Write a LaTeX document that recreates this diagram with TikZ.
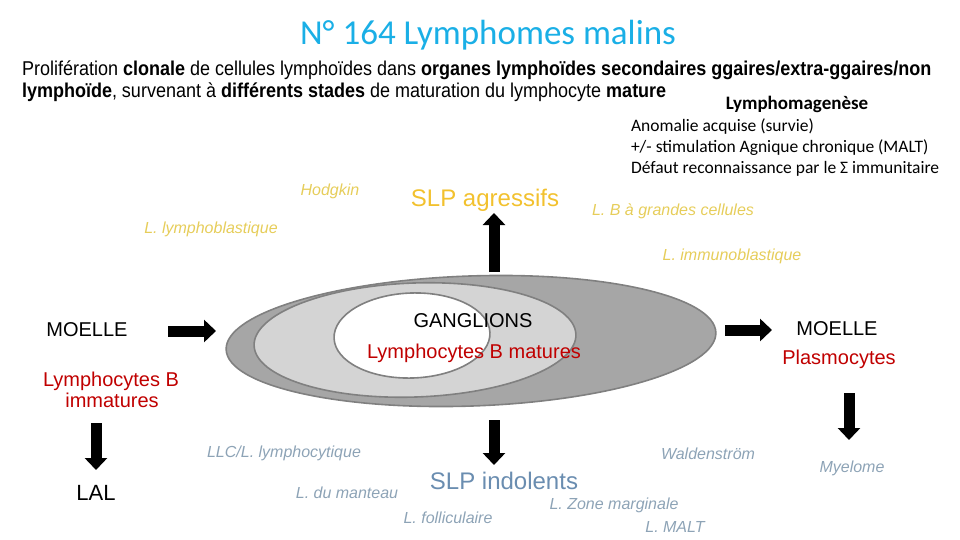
\documentclass[tikz,border=0pt]{standalone}
\usepackage{fontspec}
\setmainfont{Liberation Sans}
\newfontfamily\calibri{Carlito}
\newfontfamily\narrowfont[FakeStretch=0.9]{Liberation Sans}
\usetikzlibrary{positioning, arrows.meta, shapes.geometric}
\definecolor{titleblue}{HTML}{1AAFE6}
\definecolor{matred}{HTML}{C00000}
\definecolor{aggold}{HTML}{F2C12E}
\definecolor{agpale}{HTML}{E6CD5A}
\definecolor{indblue}{HTML}{6A8DB0}
\definecolor{indpale}{HTML}{8DA3B6}
\definecolor{rimgray}{HTML}{808080}

\begin{document}
\begin{tikzpicture}[
    x=1pt, y=-1pt,
    every node/.style={inner sep=0pt, outer sep=0pt},
    lbl/.style={anchor=base, font=\fontsize{20}{24}\selectfont},
    sub/.style={anchor=base, font=\fontsize{16}{19}\selectfont\itshape},
    slp/.style={anchor=base, font=\fontsize{24}{28}\selectfont},
    gen/.style={anchor=base west, font=\calibri\fontsize{17.5}{21}\selectfont},
    intro/.style={anchor=base west, font=\narrowfont\fontsize{20}{22}\selectfont},
    blob/.style={ellipse, draw=rimgray, line width=1.6pt, rotate=2},
    blockarr/.style={line width=11pt, -{Triangle[width=22pt,length=12pt]}}
  ]
  \useasboundingbox (0,0) rectangle (960,540);
  % Titre
  \node[anchor=base, font=\calibri\fontsize{35}{40}\selectfont, text=titleblue] (title) at (488,45) {N° 164 Lymphomes malins};
  \node[intro] (intro1) at (22,76) {Prolifération \textbf{clonale} de cellules lymphoïdes dans \textbf{organes lymphoïdes secondaires ggaires/extra-ggaires/non}};
  \node[intro] (intro2) at (22,98) {\textbf{lymphoïde}, survenant à \textbf{différents stades} de maturation du lymphocyte \textbf{mature}};
  % Lymphomagenese
  \node[anchor=base, font=\calibri\bfseries\fontsize{19}{22}\selectfont] (genese) at (797,110) {Lymphomagenèse};
  \node[gen] (anom) at (631,132) {Anomalie acquise (survie)};
  \node[gen] (stim) at (631,153) {+/- stimulation Agnique chronique (MALT)};
  \node[gen] (defaut) at (631,174) {Défaut reconnaissance par le Σ immunitaire};
  % Ganglions
  \node[blob, fill=black!35, minimum width=490pt, minimum height=130pt] (outer) at (471,341) {};
  \node[blob, fill=black!17, minimum width=322pt, minimum height=114pt] (mid) at (415,340) {};
  \node[blob, fill=white, minimum width=156pt, minimum height=85pt] (core) at (412,335.5) {};
  \node[lbl] (gang) at (473,327) {GANGLIONS};
  \node[lbl, text=matred] (lbmat) at (474,358) {Lymphocytes B matures};
  % Moelle
  \node[lbl] (moelleL) at (87,336) {MOELLE};
  \node[lbl, text=matred] (lbimm1) at (111,386) {Lymphocytes B};
  \node[lbl, text=matred] (lbimm2) at (112,407) {immatures};
  \node[lbl, font=\fontsize{22}{26}\selectfont] (lal) at (96,500) {LAL};
  \node[lbl] (moelleR) at (837,335) {MOELLE};
  \node[lbl, text=matred] (plasmo) at (839,364) {Plasmocytes};
  \node[sub, text=indpale] (myelome) at (852,472) {Myelome};
  % SLP agressifs
  \node[slp, text=aggold] (aggr) at (485,206) {SLP agressifs};
  \node[sub, text=agpale] (hodgkin) at (330,195) {Hodgkin};
  \node[sub, text=agpale] (lbgc) at (673,215) {L. B à grandes cellules};
  \node[sub, text=agpale] (lblast) at (211,233) {L. lymphoblastique};
  \node[sub, text=agpale] (limmuno) at (732,260) {L. immunoblastique};
  % SLP indolents
  \node[slp, text=indblue] (indol) at (504,489) {SLP indolents};
  \node[sub, text=indpale] (llc) at (284,457) {LLC/L. lymphocytique};
  \node[sub, text=indpale] (manteau) at (347,498) {L. du manteau};
  \node[sub, text=indpale] (follic) at (448,523) {L. folliculaire};
  \node[sub, text=indpale] (zonem) at (614,509) {L. Zone marginale};
  \node[sub, text=indpale] (malt) at (675,532) {L. MALT};
  \node[sub, text=indpale] (walden) at (708,459) {Waldenström};
  % bouts des fleches
  \coordinate (inL) at (168,331);
  \coordinate (inR) at (216,331);
  \coordinate (outL) at (725,330);
  \coordinate (outR) at (772,330);
  \coordinate (upA) at (494,272);
  \coordinate (upB) at (494,213);
  \coordinate (dnA) at (494,420);
  \coordinate (dnB) at (494,465);
  \coordinate (lalA) at (96,423);
  \coordinate (lalB) at (96,470);
  \coordinate (myA) at (849,393);
  \coordinate (myB) at (849,440);
  \draw[blockarr] (inL) -- (inR);
  \draw[blockarr] (outL) -- (outR);
  \draw[blockarr] (upA) -- (upB);
  \draw[blockarr] (dnA) -- (dnB);
  \draw[blockarr] (lalA) -- (lalB);
  \draw[blockarr] (myA) -- (myB);
\end{tikzpicture}
\end{document}
